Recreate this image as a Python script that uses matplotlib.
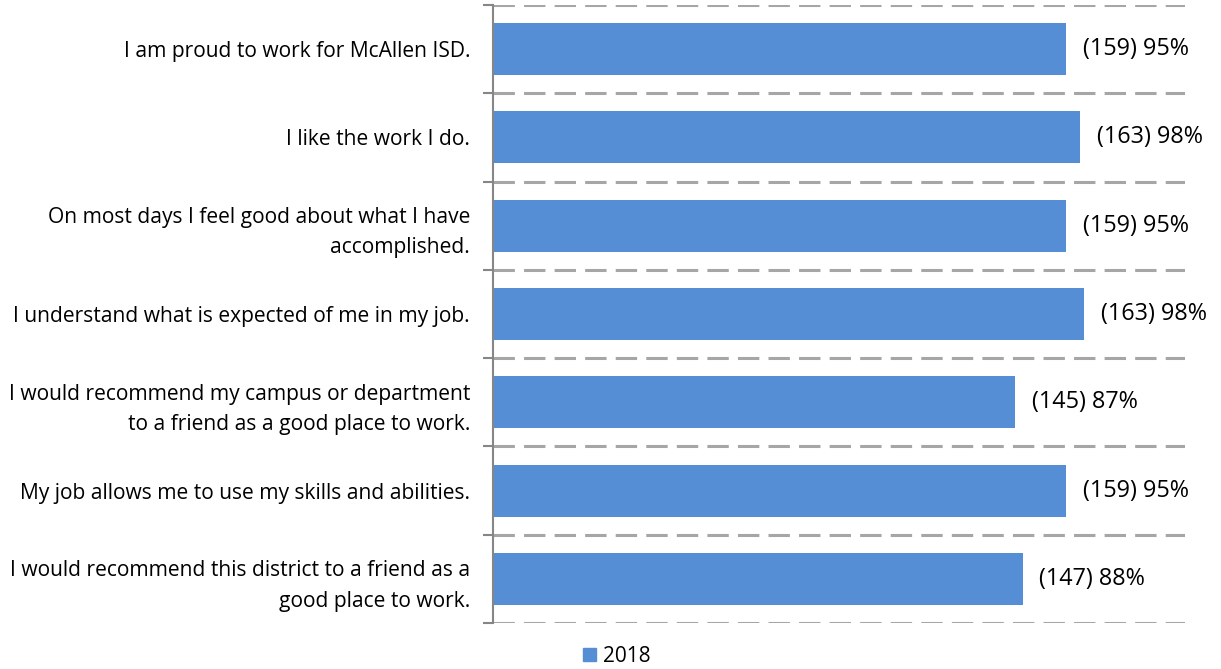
import matplotlib.pyplot as plt
from matplotlib.patches import Patch

categories = [
    "I am proud to work for McAllen ISD.",
    "I like the work I do.",
    "On most days I feel good about what I have\naccomplished.",
    "I understand what is expected of me in my job.",
    "I would recommend my campus or department\nto a friend as a good place to work.",
    "My job allows me to use my skills and abilities.",
    "I would recommend this district to a friend as a\ngood place to work.",
]
counts = [159, 163, 159, 163, 145, 159, 147]
percents = [95.2, 97.6, 95.2, 98.2, 86.8, 95.2, 88.0]
series_name = "2018"

bar_color = "#558ED5"
grid_color = "#A6A6A6"
axis_color = "#868686"

plt.rcParams['font.family'] = ['Open Sans', 'DejaVu Sans']

fig = plt.figure(figsize=(12.21, 6.69), dpi=100)
ax = fig.add_axes([0.4038, 0.0688, 0.5667, 0.9237])

n = len(categories)
ypos = list(range(n))
ax.barh(ypos, percents, height=0.59, color=bar_color, zorder=3)

for y, c, p in zip(ypos, counts, percents):
    ax.annotate(f"({c}) {p:.0f}%", xy=(p, y), xytext=(12, 0),
                textcoords="offset points", va="center", ha="left",
                fontsize=16.8, color="black")

ax.set_xlim(0, 115)
ax.set_ylim(n - 0.5, -0.5)

# dashed separators between categories
for b in range(n + 1):
    ax.axhline(b - 0.5, color=grid_color, lw=2.2, dashes=(7, 3), zorder=1)

ax.set_yticks(ypos)
ax.set_yticklabels(categories, fontsize=15.1, linespacing=1.58)
ax.set_yticks([b - 0.5 for b in range(n + 1)], minor=True)
ax.tick_params(axis="y", which="major", length=0, pad=16.5)
ax.tick_params(axis="y", which="minor", length=7, width=1.5, color=axis_color)
ax.set_xticks([])

for side in ("top", "right", "bottom"):
    ax.spines[side].set_visible(False)
ax.spines["left"].set_color(axis_color)
ax.spines["left"].set_linewidth(1.5)
ax.spines["left"].set_zorder(4)

fig.legend(handles=[Patch(color=bar_color, label=series_name)],
           loc="center", bbox_to_anchor=(0.505, 0.019), frameon=False,
           fontsize=15, handlelength=0.62, handleheight=0.62,
           handletextpad=0.35)

fig.savefig("out.png", dpi=100)
